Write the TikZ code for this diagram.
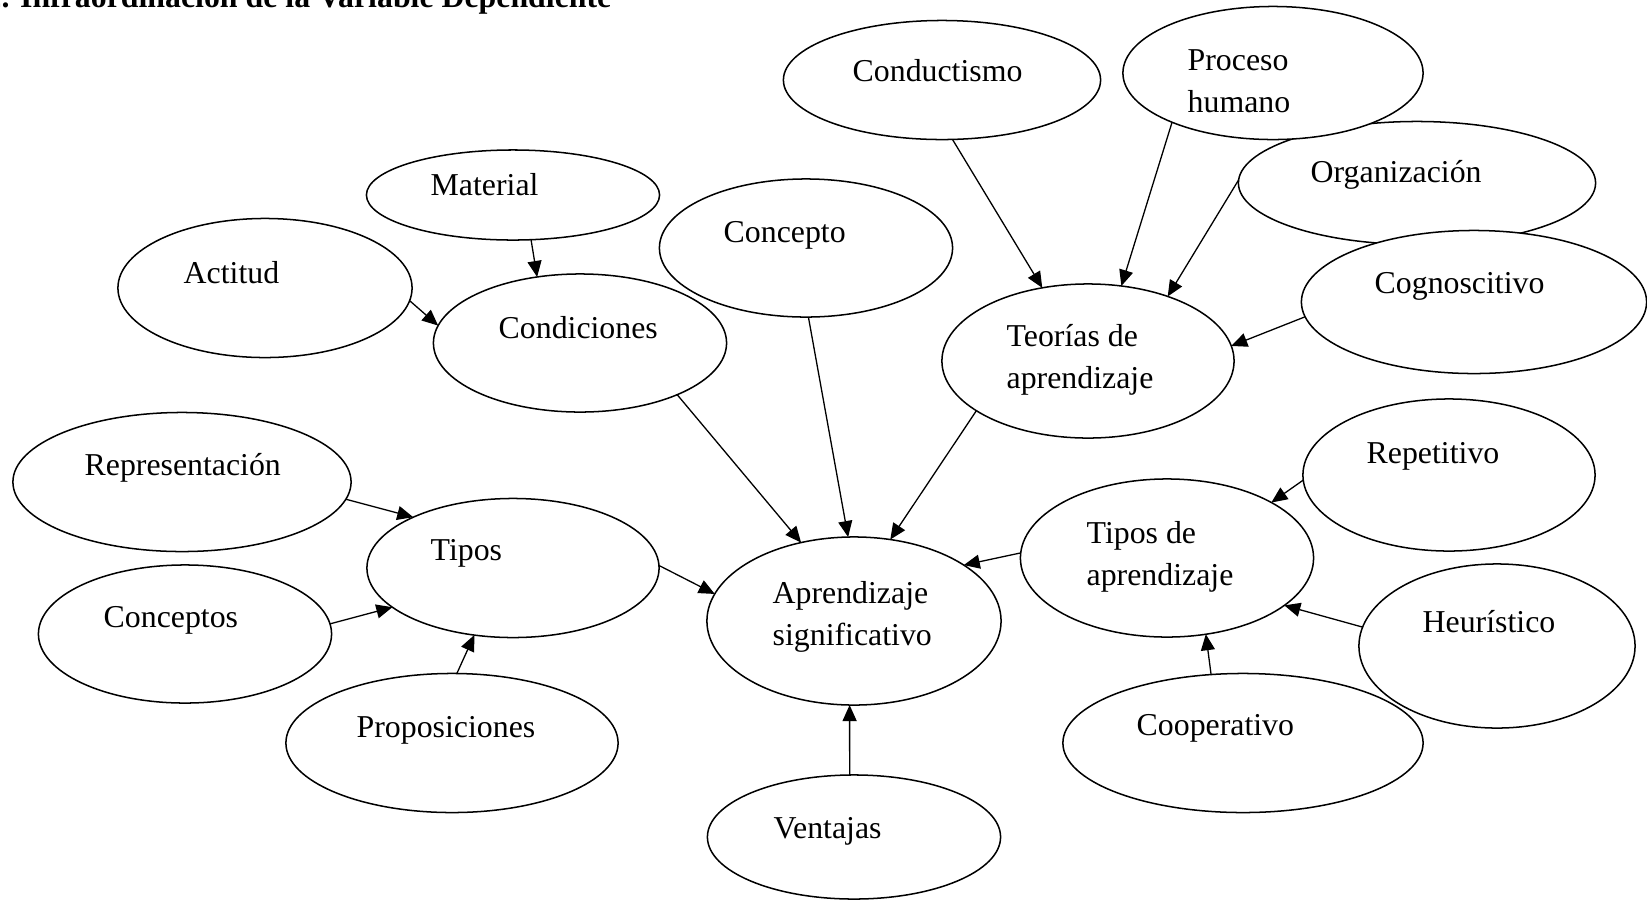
\documentclass[tikz,border=0pt]{standalone}
\usepackage{fontspec}
\setmainfont{Liberation Serif}
\usetikzlibrary{shapes.geometric,arrows.meta}

\begin{document}
\begin{tikzpicture}[
    x=0.01cm, y=-0.01cm,
    every node/.style={font=\fontsize{9.05}{11.95}\selectfont},
    bubble/.style 2 args={ellipse, draw, fill=white, line width=0.43pt, inner sep=0pt, outer sep=0pt, minimum width=#1, minimum height=#2},
    txt/.style={anchor=west, inner sep=0pt, align=left, yshift=-0.03cm},
    arrow/.style={-{Triangle[length=0.16cm,width=0.14cm]}, line width=0.37pt}
]
    \useasboundingbox (0,0) rectangle (1647,914);
    \node[anchor=base west, inner sep=0pt, font=\fontsize{9.05}{11.95}\selectfont\bfseries] (title) at (-15,7) {2. Infraordinación de la Variable  Dependiente};

    \node[bubble={3.17cm}{1.19cm}] (conduct) at (942,80) {};
    \node[bubble={3.57cm}{1.23cm}] (organiz) at (1417,183) {};
    \node[bubble={3.00cm}{1.33cm}] (proceso) at (1273,73) {};
    \node[bubble={3.45cm}{1.43cm}] (cognos) at (1474,302) {};
    \node[bubble={2.92cm}{1.54cm}] (teorias) at (1088,361) {};
    \node[bubble={2.93cm}{0.90cm}] (material) at (513,195) {};
    \node[bubble={2.94cm}{1.39cm}] (actitud) at (265,288) {};
    \node[bubble={2.93cm}{1.38cm}] (condic) at (580,343) {};
    \node[bubble={2.93cm}{1.38cm}] (concepto) at (806,248) {};
    \node[bubble={3.38cm}{1.39cm}] (repres) at (182,482) {};
    \node[bubble={2.92cm}{1.39cm}] (tipos) at (513,568) {};
    \node[bubble={2.93cm}{1.38cm}] (conceptos) at (185,634) {};
    \node[bubble={3.32cm}{1.39cm}] (propos) at (452,743) {};
    \node[bubble={2.94cm}{1.68cm}] (aprend) at (854,621) {};
    \node[bubble={2.93cm}{1.24cm}] (ventajas) at (854,837) {};
    \node[bubble={2.92cm}{1.52cm}] (repet) at (1449,475) {};
    \node[bubble={2.93cm}{1.58cm}] (tiposap) at (1167,558) {};
    \node[bubble={3.60cm}{1.39cm}] (coop) at (1243,743) {};
    \node[bubble={2.76cm}{1.64cm}] (heur) at (1497,646) {};

    \node[txt] (conduct-t) at (852,68) {Conductismo};
    \node[txt] (proceso-t) at (1187,78) {Proceso\\humano};
    \node[txt] (organiz-t) at (1310,172) {Organización};
    \node[txt] (cognos-t) at (1374,283) {Cognoscitivo};
    \node[txt] (teorias-t) at (1006,357) {Teorías de\\aprendizaje};
    \node[txt] (material-t) at (430,182) {Material};
    \node[txt] (actitud-t) at (183,270) {Actitud};
    \node[txt] (condic-t) at (498,325) {Condiciones};
    \node[txt] (concepto-t) at (723,232) {Concepto};
    \node[txt] (repres-t) at (84,465) {Representación};
    \node[txt] (tipos-t) at (430,550) {Tipos};
    \node[txt] (conceptos-t) at (103,617) {Conceptos};
    \node[txt] (propos-t) at (356,727) {Proposiciones};
    \node[txt] (aprend-t) at (772,614) {Aprendizaje\\significativo};
    \node[txt] (ventajas-t) at (773,828) {Ventajas};
    \node[txt] (repet-t) at (1366,453) {Repetitivo};
    \node[txt] (tiposap-t) at (1086,554) {Tipos de\\aprendizaje};
    \node[txt] (heur-t) at (1422,619) {Heurístico};
    \node[txt] (coop-t) at (1136,725) {Cooperativo};

    \draw[arrow] (conduct.280) -- (teorias.122);
    \draw[arrow] (proceso.206) -- (teorias.66);
    \draw[arrow] (organiz.179) -- (teorias.39);
    \draw[arrow] (cognos.185) -- (teorias.6);
    \draw[arrow] (material.292) -- (condic.123);
    \draw[arrow] (actitud.355) -- (condic.173);
    \draw[arrow] (condic.332) -- (aprend.124);
    \draw[arrow] (concepto.272) -- (aprend.94);
    \draw[arrow] (teorias.204) -- (aprend.66);
    \draw[arrow] (tiposap.178) -- (aprend.27);
    \draw[arrow] (repet.182) -- (tiposap.28);
    \draw[arrow] (heur.172) -- (tiposap.338);
    \draw[arrow] (coop.115) -- (tiposap.297);
    \draw[arrow] (ventajas.94) -- (aprend.267);
    \draw[arrow] (tipos.1) -- (aprend.169);
    \draw[arrow] (repres.354) -- (tipos.153);
    \draw[arrow] (conceptos.4) -- (tipos.198);
    \draw[arrow] (propos.86) -- (tipos.240);
\end{tikzpicture}
\end{document}
